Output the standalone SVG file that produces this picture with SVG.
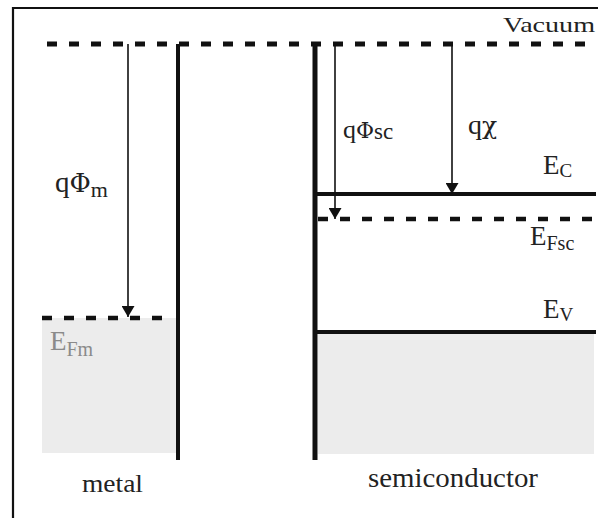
<svg xmlns="http://www.w3.org/2000/svg" width="598" height="518" viewBox="0 0 598 518">
<style>
.lvl{stroke:#111;stroke-width:4;fill:none}
.dash{stroke:#111;stroke-width:5;fill:none;stroke-dasharray:10 12}
.arr{stroke:#111;stroke-width:1.6;fill:none;marker-end:url(#ah)}
.fill{fill:#ececec}
.t{font-family:'Liberation Serif','Times New Roman','DejaVu Serif',serif;fill:#222}
.g{font-family:'DejaVu Serif','Noto Serif',serif}
</style>
<defs>
<marker id="ah" markerWidth="11" markerHeight="13" refX="11" refY="6.5" orient="auto" markerUnits="userSpaceOnUse" viewBox="0 0 11 13">
<path d="M0,0 L11,6.5 L0,13 Z" fill="#111"/>
</marker>
</defs>
<rect width="598" height="518" fill="#fff"/>
<g id="frame">
<path d="M13,518 V8 H598" stroke="#111" stroke-width="2.2" fill="none"/>
</g>
<g id="vacuum">
<line class="dash" x1="47" y1="44" x2="590" y2="44"/>
<text class="t" x="503" y="32" font-size="22" textLength="92" lengthAdjust="spacingAndGlyphs">Vacuum</text>
</g>
<g id="metal">
<rect class="fill" x="42" y="318" width="134" height="135"/>
<line class="dash" x1="42" y1="318" x2="170" y2="318" style="stroke-width:4.5"/>
<line class="lvl" x1="178" y1="44" x2="178" y2="460"/>
<text class="t" x="50" y="350" font-size="27" style="fill:#8a8a8a">E<tspan font-size="20" dy="6">Fm</tspan></text>
<text class="t" x="82" y="492" font-size="26" textLength="61" lengthAdjust="spacingAndGlyphs">metal</text>
</g>
<g id="semiconductor">
<rect class="fill" x="318" y="333" width="276" height="121"/>
<line class="lvl" x1="315" y1="44" x2="315" y2="460" style="stroke-width:5"/>
<line class="lvl" x1="315" y1="194" x2="596" y2="194"/>
<line class="dash" x1="318" y1="219" x2="592" y2="219" style="stroke-width:4.5"/>
<line class="lvl" x1="315" y1="332" x2="596" y2="332"/>
<text class="t" x="543" y="174" font-size="27">E<tspan font-size="19" dy="3">C</tspan></text>
<text class="t" x="530" y="245" font-size="27">E<tspan font-size="20" dy="5">Fsc</tspan></text>
<text class="t" x="543" y="318" font-size="27">E<tspan font-size="19" dy="3">V</tspan></text>
<text class="t" x="368" y="487" font-size="27" textLength="170" lengthAdjust="spacingAndGlyphs">semiconductor</text>
</g>
<g id="connectors">
<line class="arr" x1="128" y1="44" x2="128" y2="317"/>
<line class="arr" x1="335" y1="44" x2="335" y2="219"/>
<line class="arr" x1="452" y1="44" x2="452" y2="194"/>
</g>
<g id="labels">
<text class="t" x="55" y="192" font-size="29">q<tspan class="g" font-size="26">Φ</tspan><tspan font-size="22" dy="5">m</tspan></text>
<text class="t" x="343" y="138" font-size="26">q<tspan class="g" font-size="22">Φ</tspan><tspan font-size="23" dy="1">sc</tspan></text>
<text class="t" x="468" y="134" font-size="28">q<tspan class="g" font-size="25">χ</tspan></text>
</g>
</svg>
